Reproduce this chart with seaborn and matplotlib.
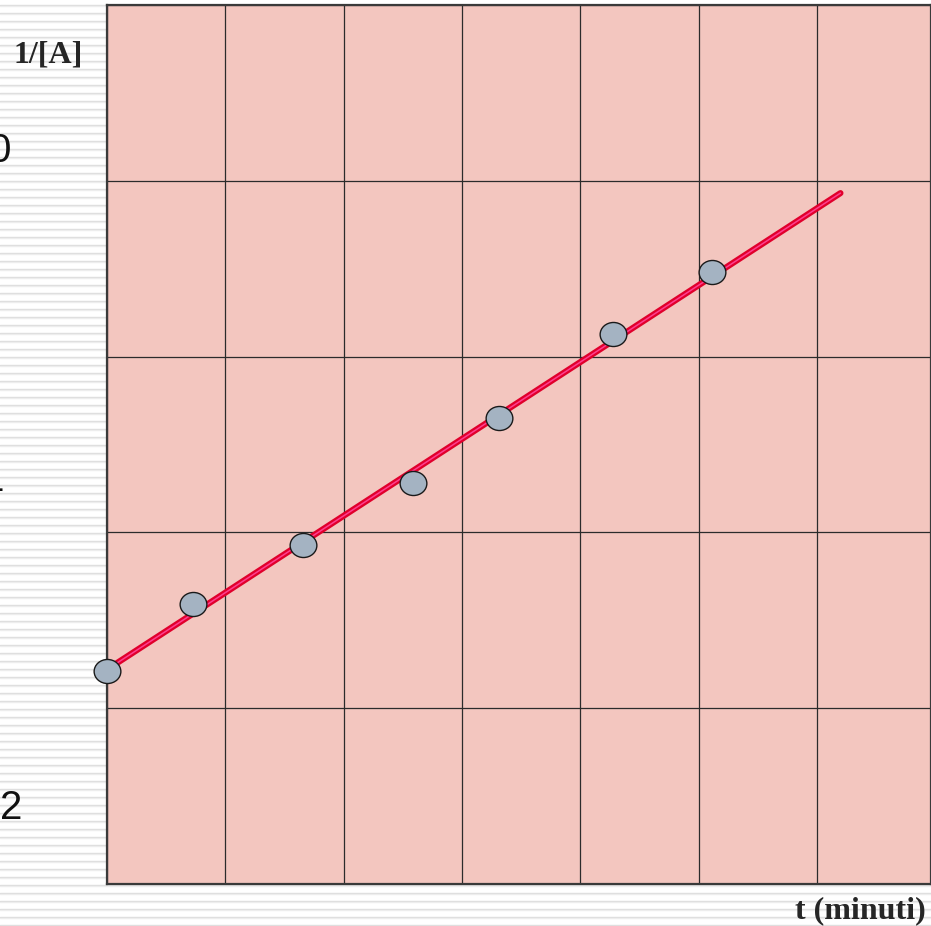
import numpy as np
import pandas as pd
import matplotlib
matplotlib.use("Agg")
import matplotlib.pyplot as plt
import seaborn as sns
from matplotlib.path import Path
from matplotlib.markers import MarkerStyle
from matplotlib.transforms import Affine2D

# ---- data ----
t_minuti = [0.0, 0.73, 1.66, 2.59, 3.31, 4.28, 5.11]
inv_A = [1.21, 1.59, 1.93, 2.28, 2.65, 3.13, 3.48]
fit_t = [0.0, 6.20]
fit_y = [1.22, 3.93]
side_labels = ["0", "1", "2"]

sns.set_theme(style="white")
plt.rcParams['font.family'] = ['DejaVu Sans']

W, H = 931, 926
fig = plt.figure(figsize=(W / 100, H / 100), dpi=100)

# striped background
bg = fig.add_axes([0, 0, 1, 1], zorder=0)
bg.set_xlim(0, W)
bg.set_ylim(H, 0)
bg.axis("off")
for yy in np.arange(5, H, 8):
    bg.axhline(yy, color="#DCDCDC", lw=1.0)
    bg.axhline(yy + 1, color="#EDEDED", lw=1.0)

# main axes
ax = fig.add_axes([107 / W, (H - 884) / H, (W - 107) / W, (884 - 5) / H], zorder=1)
ax.set_facecolor("#F3C6BF")
ax.set_xlim(0, 824 / 118.3)
ax.set_ylim(0, 5)
ax.set_xticks(range(0, 7))
ax.set_yticks(range(0, 6))
ax.tick_params(left=False, bottom=False, labelleft=False, labelbottom=False)
ax.grid(True, color="#2b2b2b", lw=0.9)
for s in ["left", "top", "bottom", "right"]:
    ax.spines[s].set_color("#3a3a3a")
    ax.spines[s].set_linewidth(1.6)

fit_df = pd.DataFrame({"t": fit_t, "y": fit_y})
sns.lineplot(data=fit_df, x="t", y="y", ax=ax, color="#E0002B", lw=4.4,
             solid_capstyle="round", zorder=3)
sns.lineplot(data=fit_df, x="t", y="y", ax=ax, color="#FF3D8F", lw=1.1,
             zorder=4)

ell = Path.unit_circle().transformed(Affine2D().scale(1.0, 0.9))
marker = MarkerStyle(ell)
pts = pd.DataFrame({"t": t_minuti, "y": inv_A})
sns.scatterplot(data=pts, x="t", y="y", ax=ax, marker=marker, s=370,
                color="#A4B3C2", edgecolor="#1a1a1a", linewidth=1.0,
                zorder=5, clip_on=False)
ax.set_xlabel("")
ax.set_ylabel("")

# texts
fig.text(48 / W, 1 - 55 / H, "1/[A]", family="Liberation Serif", weight="bold",
         fontsize=23, ha="center", va="center")
fig.text(860 / W, 1 - 911 / H, "t (minuti)", family="Liberation Serif",
         weight="bold", fontsize=23, ha="center", va="center")
side_pos = [(11, 151), (4, 480), (22, 808)]
for lab, (px, py) in zip(side_labels, side_pos):
    fig.text(px / W, 1 - py / H, lab, family="Liberation Sans", fontsize=29,
             ha="right", va="center", color="#111111")

fig.savefig("out.png", dpi=100)
